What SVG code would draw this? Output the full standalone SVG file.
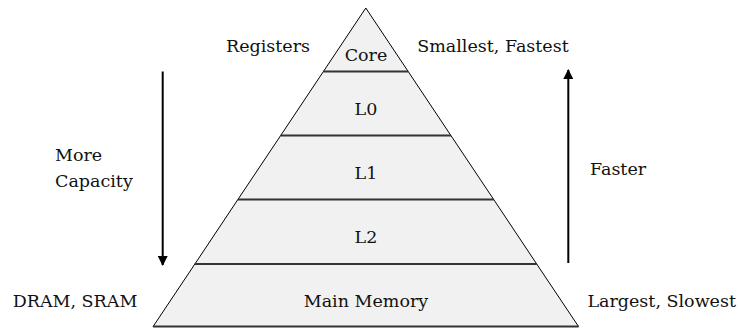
<svg xmlns="http://www.w3.org/2000/svg" width="738" height="329" viewBox="0 0 738 329">
  <style>
    .band { fill: #f1f1f1; stroke: #000; stroke-width: 1; stroke-linejoin: miter; }
    .divider { stroke: #333; stroke-width: 2; }
    .lbl { font-family: "DejaVu Serif", "Liberation Serif", serif; font-size: 17.5px; fill: #111; }
    .mid { text-anchor: middle; }
    .arrow { stroke: #000; stroke-width: 2; fill: none; marker-end: url(#head); }
  </style>
  <defs>
    <marker id="head" viewBox="0 0 10 10" refX="9" refY="5" markerWidth="5" markerHeight="5" markerUnits="strokeWidth" orient="auto">
      <path d="M0,0 L10,5 L0,10 z" fill="#000"/>
    </marker>
  </defs>
  <rect width="738" height="329" fill="#fff"/>

  <!-- pyramid layers, top to bottom -->
  <g id="core">
    <polygon class="band" points="365.8,8 408.2,71.5 323.4,71.5"/>
    <text class="lbl mid" x="366" y="61">Core</text>
  </g>
  <g id="l0">
    <polygon class="band" points="323.4,71.5 408.2,71.5 450.9,135.5 280.7,135.5"/>
    <text class="lbl mid" x="366" y="115">L0</text>
  </g>
  <g id="l1">
    <polygon class="band" points="280.7,135.5 450.9,135.5 493.7,199.5 237.9,199.5"/>
    <text class="lbl mid" x="366" y="179">L1</text>
  </g>
  <g id="l2">
    <polygon class="band" points="237.9,199.5 493.7,199.5 536.7,264 194.9,264"/>
    <text class="lbl mid" x="366" y="243">L2</text>
  </g>
  <g id="main-memory">
    <polygon class="band" points="194.9,264 536.7,264 578.5,326.5 153.1,326.5"/>
    <text class="lbl mid" x="366" y="306.5">Main Memory</text>
  </g>

  <!-- level dividers -->
  <g id="dividers">
    <line class="divider" x1="323.4" y1="71.5" x2="408.2" y2="71.5"/>
    <line class="divider" x1="280.7" y1="135.5" x2="450.9" y2="135.5"/>
    <line class="divider" x1="237.9" y1="199.5" x2="493.7" y2="199.5"/>
    <line class="divider" x1="194.9" y1="264" x2="536.7" y2="264"/>
    <line class="divider" x1="153.1" y1="326.5" x2="578.5" y2="326.5"/>
  </g>

  <!-- side arrows -->
  <g id="connectors">
    <line class="arrow" x1="162.7" y1="71.5" x2="162.7" y2="265"/>
    <line class="arrow" x1="568.3" y1="263" x2="568.3" y2="70"/>
  </g>

  <!-- side annotations -->
  <g id="annotations">
    <text class="lbl mid" x="268" y="52">Registers</text>
    <text class="lbl mid" x="493" y="52">Smallest, Fastest</text>
    <text class="lbl" x="55" y="160.7">More</text>
    <text class="lbl" x="55" y="186.7">Capacity</text>
    <text class="lbl" x="590" y="175">Faster</text>
    <text class="lbl mid" x="75" y="306.5">DRAM, SRAM</text>
    <text class="lbl mid" x="661.7" y="306.5">Largest, Slowest</text>
  </g>
</svg>
